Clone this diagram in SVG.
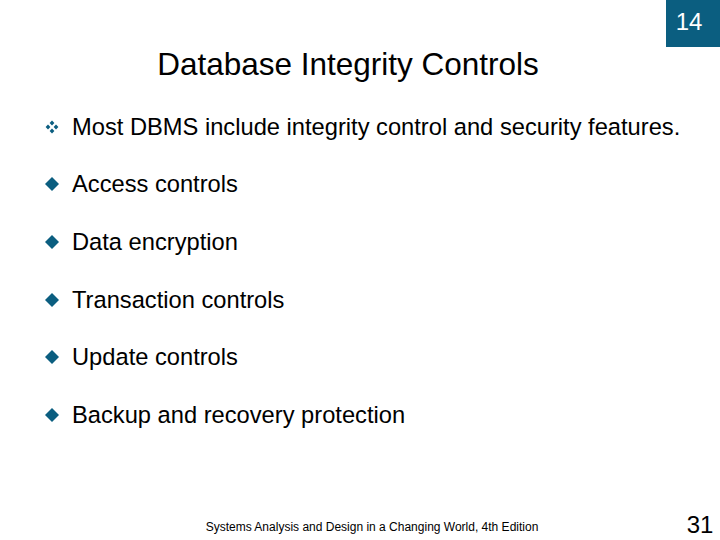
<svg xmlns="http://www.w3.org/2000/svg" width="720" height="540" viewBox="0 0 720 540">
<style>
.t{font-family:"Liberation Sans",Arial,sans-serif;fill:#000}
.b{font-size:23.7px}
.d{fill:#0b5e80}
</style>
<defs>
<path id="dia" class="d" d="M0,-7 L7,0 L0,7 L-7,0Z"/>
<path id="sd" class="d" d="M0,-2.4 L2.4,0 L0,2.4 L-2.4,0Z"/>
</defs>
<rect width="720" height="540" fill="#fff"/>
<rect x="666" y="0" width="54" height="47" fill="#0b5e80"/>
<text x="689" y="30" font-size="24" text-anchor="middle" class="t" style="fill:#fff">14</text>
<text x="348" y="75" font-size="31.5" text-anchor="middle" class="t">Database Integrity Controls</text>
<g id="b1"><use href="#sd" x="52" y="123"/><use href="#sd" x="48" y="127"/><use href="#sd" x="56" y="127"/><use href="#sd" x="52" y="131"/>
<text x="72" y="135" class="t b">Most DBMS include integrity control and security features.</text></g>
<g id="b2"><use href="#dia" x="52" y="184"/><text x="72" y="192" class="t b">Access controls</text></g>
<g id="b3"><use href="#dia" x="52" y="242"/><text x="72" y="250" class="t b">Data encryption</text></g>
<g id="b4"><use href="#dia" x="52" y="300"/><text x="72" y="308" class="t b">Transaction controls</text></g>
<g id="b5"><use href="#dia" x="52" y="357"/><text x="72" y="365" class="t b">Update controls</text></g>
<g id="b6"><use href="#dia" x="52" y="415"/><text x="72" y="423" class="t b">Backup and recovery protection</text></g>
<text x="372" y="531" font-size="12" text-anchor="middle" class="t">Systems Analysis and Design in a Changing World, 4th Edition</text>
<text x="700" y="533" font-size="24" text-anchor="middle" class="t">31</text>
</svg>
